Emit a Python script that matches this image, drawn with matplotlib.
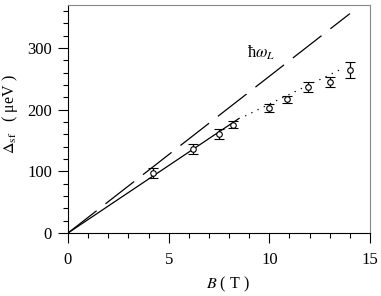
import numpy as np
import matplotlib
matplotlib.use("Agg")
import matplotlib.pyplot as plt
from matplotlib.ticker import MultipleLocator

plt.rcParams['font.family'] = ['Liberation Serif', 'DejaVu Serif']
plt.rcParams['mathtext.fontset'] = 'stix'

# measured spin-flip splitting
B_data = [4.2, 6.2, 7.5, 8.2, 10.0, 10.9, 11.9, 13.0, 14.0]
E_data = [97, 137, 160, 176, 203, 217, 237, 245, 265]
E_err = [8, 8, 8, 6, 6, 6, 8, 8, 13]

# linear fit at low field (solid), trend at high field (dotted)
fit_B = [0, 8.5]
fit_E = [0, 186]
trend_B = [8.8, 13.7]
trend_E = [190, 268]

# Larmor energy hbar*omega_L (dashed)
larmor_B = [0, 14]
larmor_E = [0, 356]

fig = plt.figure(figsize=(3.81, 2.96), dpi=100)
ax = fig.add_axes([68 / 381, 1 - 233 / 296, 302 / 381, 228 / 296])

ax.plot(larmor_B, larmor_E, color='black', lw=0.9, dashes=(29, 9))
ax.plot(fit_B, fit_E, color='black', lw=0.9)
ax.plot(trend_B, trend_E, color='black', lw=0.9, ls=(0, (1, 4.5)))
ax.errorbar(B_data, E_data, yerr=E_err, fmt='o', ms=4, mfc='white',
            mec='black', mew=0.8, ecolor='black', elinewidth=0.9,
            capsize=3.6, capthick=0.9)

ax.text(8.9, 284, 'ħ' + r'$\omega_L$', fontsize=12, va='baseline')

ax.set_xlim(0, 15)
ax.set_ylim(0, 370)
ax.xaxis.set_major_locator(MultipleLocator(5))
ax.xaxis.set_minor_locator(MultipleLocator(1))
ax.yaxis.set_major_locator(MultipleLocator(100))
ax.yaxis.set_minor_locator(MultipleLocator(20))
ax.tick_params(which='both', direction='out', labelsize=12, width=0.8)
ax.tick_params(which='major', length=7)
ax.tick_params(which='minor', length=3.5)
ax.tick_params(axis='y', which='major', pad=4.5)
ax.tick_params(axis='x', which='major', pad=6.5)
for s in ['top', 'right']:
    ax.spines[s].set_color('#888888')

ax.set_xlabel(r'$B$ ( T )', fontsize=11.5)
ax.xaxis.set_label_coords(0.53, -0.185)
ax.set_ylabel(r'$\Delta_{\rm sf}$' + '   ( μeV )', fontsize=11.5)
ax.yaxis.set_label_coords(-0.16, 0.52)

fig.savefig('out.png', dpi=100)
